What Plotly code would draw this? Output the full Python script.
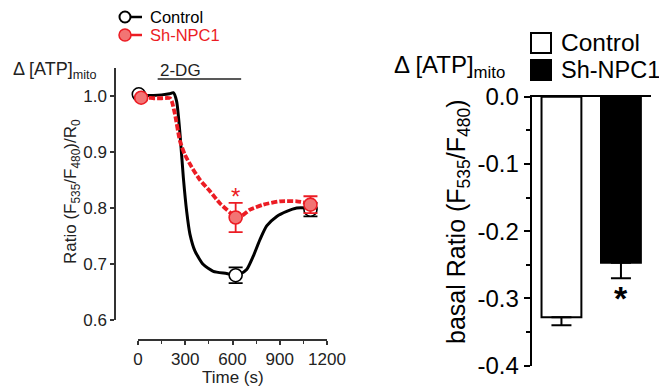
import plotly.graph_objects as go

W, H = 659, 389
FONT = "Arial, Liberation Sans, sans-serif"
RED = "#ec1c24"
RED_FILL = "#f27474"

# ---- time course of mitochondrial ATP (ratio normalised to R0) ----
ctrl_t = [0, 50, 100, 150, 200, 224, 245, 267, 288, 309, 330, 362, 415, 478,
          563, 620, 648, 690, 732, 775, 817, 881, 944, 1008, 1092, 1140]
ctrl_r = [1.002, 1.001, 1.001, 1.002, 1.004, 1.006, 0.991, 0.931, 0.854, 0.794,
          0.753, 0.723, 0.699, 0.687, 0.683, 0.680, 0.682, 0.690, 0.714, 0.744,
          0.768, 0.785, 0.794, 0.800, 0.800, 0.800]

npc_t = [20, 60, 100, 150, 203, 214, 235, 267, 298, 341, 394, 457, 521, 584,
         620, 669, 711, 796, 902, 1008, 1092, 1143]
npc_r = [0.997, 0.997, 0.996, 0.996, 0.996, 0.991, 0.967, 0.919, 0.895, 0.873,
         0.850, 0.830, 0.808, 0.792, 0.783, 0.788, 0.797, 0.806, 0.812, 0.812,
         0.808, 0.805]

# averaged points with SEM
ctrl_pt_t = [5, 620, 1095]
ctrl_pt_r = [1.003, 0.680, 0.797]
ctrl_pt_e = [0.0, 0.014, 0.012]
npc_pt_t = [20, 620, 1095]
npc_pt_r = [0.997, 0.783, 0.806]
npc_pt_e = [0.0, 0.026, 0.015]

drug_start, drug_end = 125, 655

# ---- basal ratio bars ----
groups = ["Control", "Sh-NPC1"]
basal = [-0.328, -0.247]
basal_sem = [0.012, 0.023]
bar_fill = ["white", "black"]


def px(x):
    return x / W


def py(y):
    return 1 - y / H


fig = go.Figure()

fig.add_trace(go.Scatter(x=ctrl_t, y=ctrl_r, mode="lines", line=dict(color="black", width=3, shape="spline", smoothing=0.6),
                         xaxis="x", yaxis="y", cliponaxis=False, showlegend=False, hoverinfo="skip"))
fig.add_trace(go.Scatter(x=ctrl_pt_t, y=ctrl_pt_r, mode="markers",
                         marker=dict(symbol="circle", size=13, color="white", line=dict(color="black", width=1.6)),
                         error_y=dict(type="data", array=ctrl_pt_e, color="black", thickness=1.8, width=7),
                         xaxis="x", yaxis="y", cliponaxis=False, showlegend=False))
fig.add_trace(go.Scatter(x=npc_t, y=npc_r, mode="lines", line=dict(color=RED, width=3.8, dash="6px,2px", shape="spline", smoothing=0.6),
                         xaxis="x", yaxis="y", cliponaxis=False, showlegend=False, hoverinfo="skip"))
fig.add_trace(go.Scatter(x=npc_pt_t, y=npc_pt_r, mode="markers",
                         marker=dict(symbol="circle", size=13, color=RED_FILL, line=dict(color=RED, width=1.6)),
                         error_y=dict(type="data", array=npc_pt_e, color=RED, thickness=1.8, width=7),
                         xaxis="x", yaxis="y", cliponaxis=False, showlegend=False))

fig.add_trace(go.Bar(x=groups, y=basal, width=0.67, marker=dict(color=bar_fill, line=dict(color="black", width=2)),
                     error_y=dict(type="data", symmetric=False, array=[0, 0], arrayminus=basal_sem,
                                  color="black", thickness=2, width=10),
                     xaxis="x2", yaxis="y2", showlegend=False))

tick_font = dict(family=FONT, size=17, color="#222")
big_font = dict(family=FONT, size=24, color="black")

fig.update_layout(
    template="none",
    width=W, height=H, margin=dict(l=0, r=0, t=0, b=0, autoexpand=False),
    paper_bgcolor="white", plot_bgcolor="white",
    font=dict(family=FONT),
    showlegend=False,
    xaxis=dict(domain=[px(138), px(327)], range=[0, 1200], anchor="free", position=py(340), automargin=False,
               tickvals=[0, 300, 600, 900, 1200], ticks="outside", ticklen=4, tickwidth=1.5,
               minor=dict(dtick=150, tick0=0, ticks="outside", ticklen=3, tickwidth=1.3, tickcolor="#333"),
               showline=True, linecolor="#333", linewidth=1.5, tickcolor="#333",
               showgrid=False, zeroline=False, tickfont=tick_font),
    yaxis=dict(domain=[py(320), py(68)], range=[0.6, 1.05], anchor="free", position=px(115), automargin=False,
               tickvals=[0.6, 0.7, 0.8, 0.9, 1.0], tickformat=".1f", ticks="outside", ticklen=4, tickwidth=1.5,
               showline=True, linecolor="#333", linewidth=1.5, tickcolor="#333",
               showgrid=False, zeroline=False, tickfont=tick_font),
    xaxis2=dict(domain=[px(531.7), px(650.7)], type="category", range=[-0.5, 1.5], anchor="y2", side="top",
                automargin=False, showticklabels=False, ticks="", showline=True, linecolor="black", linewidth=2,
                showgrid=False, zeroline=False),
    yaxis2=dict(domain=[py(365.7), py(96.7)], range=[-0.4, 0], anchor="x2", automargin=False,
                tickvals=[0, -0.1, -0.2, -0.3, -0.4], ticktext=["0.0", "-0.1", "-0.2", "-0.3", "-0.4"],
                ticks="outside", ticklen=6, tickwidth=2,
                minor=dict(tickvals=[-0.05, -0.15, -0.25, -0.35], ticks="outside", ticklen=4, tickwidth=2, tickcolor="black"),
                showline=True, linecolor="black", linewidth=2, tickcolor="black",
                showgrid=False, zeroline=False, tickfont=big_font),
)


def label(text, x, y, size, color="black", xanchor="center", angle=0, xref="paper"):
    return dict(text=text, x=x, y=y, xref=xref, yref="paper", xanchor=xanchor, yanchor="middle",
                textangle=angle, showarrow=False, font=dict(family=FONT, size=size, color=color))


ann = [
    # axis titles
    label("Ratio (F<sub>535</sub>/F<sub>480</sub>)/R<sub>0</sub>", px(72), py(192), 17, "#222", angle=-90),
    label("Time (s)", px(233), py(377), 17, "#222"),
    label("basal Ratio (F<sub>535</sub>/F<sub>480</sub>)", px(458), py(222), 25, angle=-90),
    # panel headings
    label("Δ [ATP]<sub>mito</sub>", px(11), py(70), 18, "#222", xanchor="left"),
    label("Δ [ATP]<sub>mito</sub>", px(392), py(66), 24, xanchor="left"),
    # drug application bar label
    label("2-DG", drug_start, py(70), 17, "#222", xanchor="left", xref="x"),
    # legends
    label("Control", px(148), py(17), 16.5, xanchor="left"),
    label("Sh-NPC1", px(148), py(35), 16.5, RED, xanchor="left"),
    label("Control", px(559), py(43), 24.5, xanchor="left"),
    label("Sh-NPC1", px(559), py(70), 23.5, xanchor="left"),
    # significance marks
    dict(text="*", x=npc_pt_t[1], y=npc_pt_r[1] + npc_pt_e[1], xref="x", yref="y", yanchor="bottom",
         yshift=-9, showarrow=False, font=dict(family=FONT, size=24, color=RED)),
    dict(text="<b>*</b>", x=groups[1], y=basal[1] - basal_sem[1], xref="x2", yref="y2", yanchor="top",
         yshift=1, showarrow=False, font=dict(family=FONT, size=34, color="black")),
]
fig.update_layout(annotations=ann)

shapes = [
    dict(type="line", xref="x", yref="paper", x0=drug_start, x1=drug_end, y0=py(79), y1=py(79),
         line=dict(color="#222", width=1.5)),
    # left legend keys
    dict(type="line", xref="paper", yref="paper", x0=px(130), x1=px(142), y0=py(17), y1=py(17),
         line=dict(color="black", width=2.5)),
    dict(type="circle", xref="paper", yref="paper", x0=px(119.5), x1=px(130.5), y0=py(22.5), y1=py(11.5),
         fillcolor="white", line=dict(color="black", width=2)),
    dict(type="line", xref="paper", yref="paper", x0=px(130), x1=px(142), y0=py(35), y1=py(35),
         line=dict(color=RED, width=2.5)),
    dict(type="circle", xref="paper", yref="paper", x0=px(119), x1=px(131), y0=py(41), y1=py(29),
         fillcolor=RED_FILL, line=dict(color=RED, width=1.5)),
    # right legend keys
    dict(type="rect", xref="paper", yref="paper", x0=px(531), x1=px(551), y0=py(53), y1=py(33),
         fillcolor="white", line=dict(color="black", width=2)),
    dict(type="rect", xref="paper", yref="paper", x0=px(531), x1=px(551), y0=py(80), y1=py(60),
         fillcolor="black", line=dict(color="black", width=2)),
]
fig.update_layout(shapes=shapes)

fig.write_html("out.html")
